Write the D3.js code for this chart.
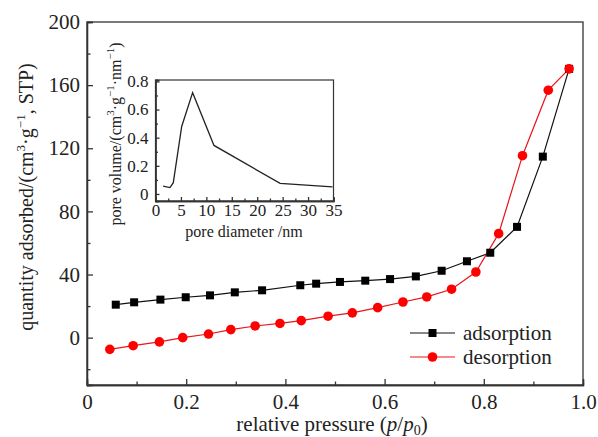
<!DOCTYPE html>
<html>
<head>
<meta charset="utf-8">
<script src="https://cdn.jsdelivr.net/npm/d3@7"></script>
<style>
  body { margin: 0; background: #fff; }
  .axis path, .axis line { stroke: #333; stroke-width: 1.3px; }
</style>
</head>
<body>
<svg width="598" height="437" font-family="Liberation Serif"></svg>
<script>
// isotherm data
var adsX = [0.058, 0.095, 0.148, 0.199, 0.248, 0.298, 0.353, 0.430, 0.462, 0.510, 0.561, 0.611, 0.663, 0.715, 0.766, 0.813, 0.867, 0.919, 0.972];
var adsY = [20.9, 22.4, 24.1, 25.6, 26.8, 28.7, 30.0, 33.2, 34.2, 35.3, 36.1, 37.1, 38.8, 42.4, 48.4, 53.8, 70.2, 114.7, 170.3];
var desX = [0.046, 0.093, 0.146, 0.193, 0.245, 0.290, 0.339, 0.389, 0.432, 0.486, 0.535, 0.586, 0.637, 0.685, 0.735, 0.784, 0.830, 0.878, 0.930, 0.972];
var desY = [-7.4, -5.1, -2.7, 0, 2.3, 5.1, 7.4, 9.0, 10.8, 13.6, 15.7, 19.0, 22.6, 25.8, 30.7, 41.6, 65.9, 115.3, 156.8, 170.3];

// inset: pore size distribution
var poreX = [1.5, 2.85, 3.5, 5.15, 7.3, 11.5, 24.5, 34.8];
var poreY = [0.055, 0.045, 0.08, 0.48, 0.72, 0.345, 0.075, 0.05];

var xTicks = [0, 0.2, 0.4, 0.6, 0.8, 1.0];
var yTicks = [0, 40, 80, 120, 160, 200];
var insetXTicks = [0, 5, 10, 15, 20, 25, 30, 35];
var insetYTicks = [0, 0.2, 0.4, 0.6, 0.8];

var serif = "Liberation Serif";

var svg = d3.select("svg");

var x = d3.scaleLinear().domain([0, 1]).range([87, 583]),
  y = d3.scaleLinear().domain([-30, 200]).range([385, 22]);

var ads = adsX.map(function(d, i) { return {x: d, y: adsY[i]}; });
var des = desX.map(function(d, i) { return {x: d, y: desY[i]}; });

var line = d3.line()
  .x(function(d) { return x(d.x); })
  .y(function(d) { return y(d.y); });

function styleAxis(size) {
  return function(g) {
    g.attr("font-family", serif).attr("font-size", size);
    g.selectAll("text").attr("fill", "#222")
      .attr("font-family", serif).attr("font-size", size);
  };
}

// frame
svg.append("rect")
  .attr("x", x(0)).attr("y", y(200))
  .attr("width", x(1) - x(0)).attr("height", y(-30) - y(200))
  .attr("fill", "none").attr("stroke", "#333").attr("stroke-width", 1.3);

// axes (ticks inside)
svg.append("g")
  .attr("class", "axis")
  .attr("transform", "translate(0," + y(-30) + ")")
  .call(d3.axisBottom(x).tickValues(xTicks).tickSize(-6).tickPadding(9)
    .tickFormat(function(d) { return d === 0 ? "0" : d3.format(".1f")(d); }))
  .call(styleAxis(21));

svg.append("g")
  .attr("class", "axis")
  .attr("transform", "translate(0," + y(-30) + ")")
  .call(d3.axisBottom(x).tickValues([0.1, 0.3, 0.5, 0.7, 0.9]).tickSize(-3.5).tickFormat(""));

svg.append("g")
  .attr("class", "axis")
  .attr("transform", "translate(" + x(0) + ",0)")
  .call(d3.axisLeft(y).tickValues(yTicks).tickSize(-6).tickPadding(7))
  .call(styleAxis(21));

svg.append("g")
  .attr("class", "axis")
  .attr("transform", "translate(" + x(0) + ",0)")
  .call(d3.axisLeft(y).tickValues([-20, 20, 60, 100, 140, 180]).tickSize(-3.5).tickFormat(""));

// axis titles
var xt = svg.append("text")
  .attr("x", 332).attr("y", 431)
  .attr("text-anchor", "middle")
  .attr("font-family", serif)
  .attr("font-size", 21).attr("fill", "#222");
xt.append("tspan").text("relative pressure (");
xt.append("tspan").attr("font-style", "italic").text("p");
xt.append("tspan").text("/");
xt.append("tspan").attr("font-style", "italic").text("p");
xt.append("tspan").attr("font-size", 14).attr("dy", 4).text("0");
xt.append("tspan").attr("dy", -4).text(")");

var yt = svg.append("text")
  .attr("transform", "translate(33,197) rotate(-90)")
  .attr("text-anchor", "middle")
  .attr("font-family", serif)
  .attr("font-size", 20).attr("fill", "#222");
yt.append("tspan").text("quantity adsorbed/(cm");
yt.append("tspan").attr("font-size", 13).attr("dy", -8).text("3");
yt.append("tspan").attr("dy", 8).text("·g");
yt.append("tspan").attr("font-size", 13).attr("dy", -8).text("−1");
yt.append("tspan").attr("dy", 8).text(", STP)");

// series
svg.append("path").datum(ads).attr("d", line)
  .attr("fill", "none").attr("stroke", "#111").attr("stroke-width", 1.2);
svg.append("path").datum(des).attr("d", line)
  .attr("fill", "none").attr("stroke", "#e8161b").attr("stroke-width", 1.2);

svg.selectAll(".sq").data(ads).enter().append("rect")
  .attr("class", "sq")
  .attr("x", function(d) { return x(d.x) - 4; })
  .attr("y", function(d) { return y(d.y) - 4; })
  .attr("width", 8).attr("height", 8)
  .attr("fill", "#000");

svg.selectAll(".dot").data(des).enter().append("circle")
  .attr("class", "dot")
  .attr("cx", function(d) { return x(d.x); })
  .attr("cy", function(d) { return y(d.y); })
  .attr("r", 4.8)
  .attr("fill", "#f00");

// legend
var legend = [
  {name: "adsorption", color: "#111", shape: "sq", yy: 333},
  {name: "desorption", color: "#e8161b", shape: "dot", yy: 357}
];
legend.forEach(function(l) {
  svg.append("line").attr("x1", 410).attr("x2", 455).attr("y1", l.yy).attr("y2", l.yy)
    .attr("stroke", l.color).attr("stroke-width", 1.2);
  if (l.shape == "sq") {
    svg.append("rect").attr("x", 428.5).attr("y", l.yy - 4).attr("width", 8).attr("height", 8).attr("fill", "#000");
  } else {
    svg.append("circle").attr("cx", 432.5).attr("cy", l.yy).attr("r", 4.8).attr("fill", "#f00");
  }
  svg.append("text").attr("x", 463).attr("y", l.yy + 7)
    .attr("font-family", serif)
    .attr("font-size", 21).attr("fill", "#222").text(l.name);
});

// inset
var ix = d3.scaleLinear().domain([0, 35]).range([155.5, 333.5]),
  iy = d3.scaleLinear().domain([-0.05, 0.81]).range([201, 80]);

svg.append("rect")
  .attr("x", ix(0)).attr("y", iy(0.81))
  .attr("width", ix(35) - ix(0)).attr("height", iy(-0.05) - iy(0.81))
  .attr("fill", "#fff").attr("stroke", "#333").attr("stroke-width", 1.2);

svg.append("g")
  .attr("class", "axis")
  .attr("transform", "translate(0," + iy(-0.05) + ")")
  .call(d3.axisBottom(ix).tickValues(insetXTicks).tickSize(-4).tickPadding(3))
  .call(styleAxis(17));

svg.append("g")
  .attr("class", "axis")
  .attr("transform", "translate(0," + iy(-0.05) + ")")
  .call(d3.axisBottom(ix).tickValues([2.5, 7.5, 12.5, 17.5, 22.5, 27.5, 32.5]).tickSize(-2.5).tickFormat(""));

svg.append("g")
  .attr("class", "axis")
  .attr("transform", "translate(" + ix(0) + ",0)")
  .call(d3.axisLeft(iy).tickValues(insetYTicks).tickSize(-4).tickPadding(7)
    .tickFormat(function(d) { return d === 0 ? "0" : d3.format(".1f")(d); }))
  .call(styleAxis(17));

svg.append("g")
  .attr("class", "axis")
  .attr("transform", "translate(" + ix(0) + ",0)")
  .call(d3.axisLeft(iy).tickValues([0.1, 0.3, 0.5, 0.7]).tickSize(-2.5).tickFormat(""));

svg.selectAll(".axis .domain").attr("stroke", "#333");

var poreLine = d3.line()
  .x(function(d) { return ix(d[0]); })
  .y(function(d) { return iy(d[1]); });
svg.append("path")
  .datum(poreX.map(function(d, i) { return [d, poreY[i]]; }))
  .attr("d", poreLine)
  .attr("fill", "none").attr("stroke", "#222").attr("stroke-width", 1.3);

svg.append("text")
  .attr("x", 244).attr("y", 237)
  .attr("text-anchor", "middle")
  .attr("font-family", serif)
  .attr("font-size", 16).attr("fill", "#222")
  .text("pore diameter /nm");

var iyt = svg.append("text")
  .attr("transform", "translate(121,134) rotate(-90)")
  .attr("text-anchor", "middle")
  .attr("font-family", serif)
  .attr("font-size", 16).attr("fill", "#222");
iyt.append("tspan").text("pore volume/(cm");
iyt.append("tspan").attr("font-size", 11).attr("dy", -7).text("3");
iyt.append("tspan").attr("dy", 7).text("·g");
iyt.append("tspan").attr("font-size", 11).attr("dy", -7).text("−1");
iyt.append("tspan").attr("dy", 7).text("·nm");
iyt.append("tspan").attr("font-size", 11).attr("dy", -7).text("−1");
iyt.append("tspan").attr("dy", 7).text(")");
</script>
</body>
</html>
